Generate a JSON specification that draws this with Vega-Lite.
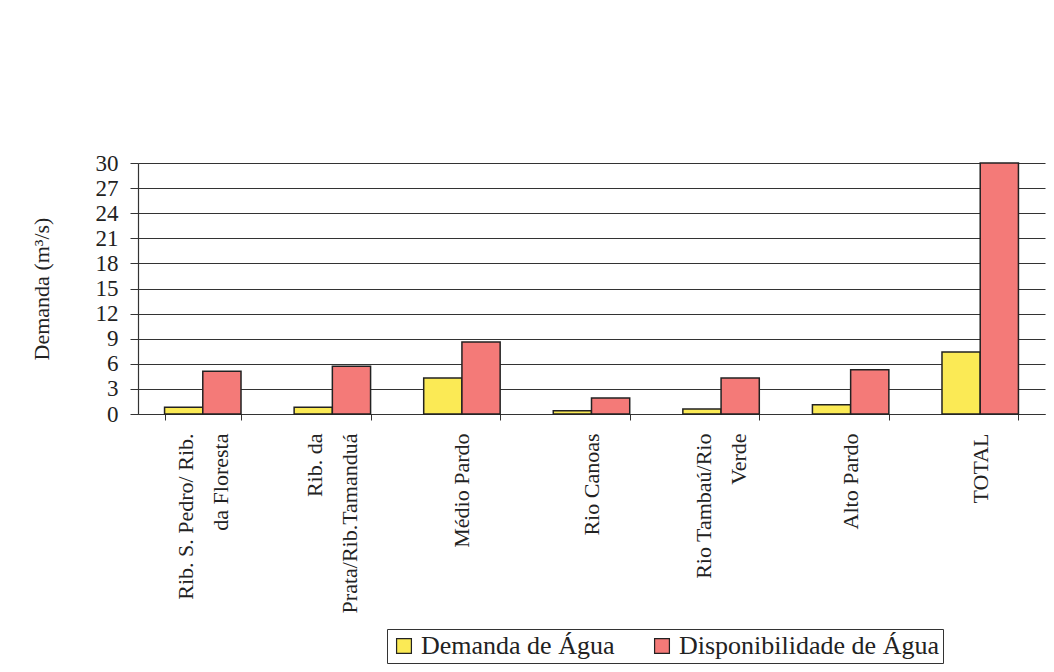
{
  "$schema": "https://vega.github.io/schema/vega-lite/v6.json",
  "autosize": "none",
  "width": 907,
  "height": 251,
  "padding": {"left": 138, "top": 163, "right": 9, "bottom": 258},
  "background": "white",
  "config": {
    "font": "Liberation Serif",
    "view": {"stroke": null}
  },
  "data": {
    "values": [
      {"regiao": "Rib. S. Pedro/ Rib.|da Floresta", "ordem": 1, "serie": "Demanda de Água", "valor": 0.8},
      {"regiao": "Rib. S. Pedro/ Rib.|da Floresta", "ordem": 1, "serie": "Disponibilidade de Água", "valor": 5.1},
      {"regiao": "Rib. da|Prata/Rib.Tamanduá", "ordem": 2, "serie": "Demanda de Água", "valor": 0.8},
      {"regiao": "Rib. da|Prata/Rib.Tamanduá", "ordem": 2, "serie": "Disponibilidade de Água", "valor": 5.7},
      {"regiao": "Médio Pardo", "ordem": 3, "serie": "Demanda de Água", "valor": 4.3},
      {"regiao": "Médio Pardo", "ordem": 3, "serie": "Disponibilidade de Água", "valor": 8.6},
      {"regiao": "Rio Canoas", "ordem": 4, "serie": "Demanda de Água", "valor": 0.4},
      {"regiao": "Rio Canoas", "ordem": 4, "serie": "Disponibilidade de Água", "valor": 1.9},
      {"regiao": "Rio Tambaú/Rio|Verde", "ordem": 5, "serie": "Demanda de Água", "valor": 0.6},
      {"regiao": "Rio Tambaú/Rio|Verde", "ordem": 5, "serie": "Disponibilidade de Água", "valor": 4.3},
      {"regiao": "Alto Pardo", "ordem": 6, "serie": "Demanda de Água", "valor": 1.1},
      {"regiao": "Alto Pardo", "ordem": 6, "serie": "Disponibilidade de Água", "valor": 5.3},
      {"regiao": "TOTAL", "ordem": 7, "serie": "Demanda de Água", "valor": 7.4},
      {"regiao": "TOTAL", "ordem": 7, "serie": "Disponibilidade de Água", "valor": 30}
    ]
  },
  "mark": {"type": "bar", "stroke": "#222222", "strokeWidth": 1.5},
  "encoding": {
    "x": {
      "field": "regiao",
      "type": "nominal",
      "sort": {"field": "ordem"},
      "scale": {"paddingInner": 0.41, "paddingOuter": 0.205},
      "axis": {
        "title": null,
        "labelExpr": "indexof(datum.label, '|') < 0 ? ['\u200b', datum.label] : [split(datum.label, '|')[0], '\u200b', split(datum.label, '|')[1]]",
        "labelAngle": -90,
        "labelAlign": "right",
        "labelBaseline": "middle",
        "labelOffset": -17.5,
        "labelLineHeight": 17.5,
        "labelPadding": 13,
        "labelFont": "Liberation Serif",
        "labelFontSize": 22,
        "labelColor": "#222222",
        "labelLimit": 300,
        "labelOverlap": false,
        "tickBand": "extent",
        "tickSize": 6,
        "tickColor": "#333333",
        "domainColor": "#333333",
        "domainWidth": 1.2
      }
    },
    "xOffset": {"field": "serie", "type": "nominal", "sort": ["Demanda de Água", "Disponibilidade de Água"]},
    "y": {
      "field": "valor",
      "type": "quantitative",
      "scale": {"domain": [0, 30], "nice": false},
      "axis": {
        "title": "Demanda (m³/s)",
        "titleFont": "Liberation Serif",
        "titleFontSize": 22,
        "titleFontWeight": "normal",
        "titleColor": "#222222",
        "titlePadding": 42,
        "values": [0, 3, 6, 9, 12, 15, 18, 21, 24, 27, 30],
        "labelFont": "Liberation Serif",
        "labelFontSize": 23,
        "labelColor": "#222222",
        "labelPadding": 12,
        "tickSize": 8,
        "tickColor": "#333333",
        "domainColor": "#333333",
        "domainWidth": 1.2,
        "grid": true,
        "gridColor": "#333333",
        "gridWidth": 1.1
      }
    },
    "color": {
      "field": "serie",
      "type": "nominal",
      "sort": ["Demanda de Água", "Disponibilidade de Água"],
      "scale": {"domain": ["Demanda de Água", "Disponibilidade de Água"], "range": ["#FBEA55", "#F47A78"]},
      "legend": {
        "title": null,
        "orient": "none",
        "legendX": 249,
        "legendY": 466,
        "direction": "horizontal",
        "columns": 2,
        "symbolType": "square",
        "symbolSize": 220,
        "symbolStrokeColor": "#222222",
        "symbolStrokeWidth": 1.2,
        "symbolOpacity": 1,
        "labelFont": "Liberation Serif",
        "labelFontSize": 26,
        "labelColor": "#222222",
        "labelLimit": 400,
        "labelOffset": 4,
        "columnPadding": 34,
        "padding": 4,
        "strokeColor": "#333333",
        "fillColor": "white"
      }
    }
  }
}
